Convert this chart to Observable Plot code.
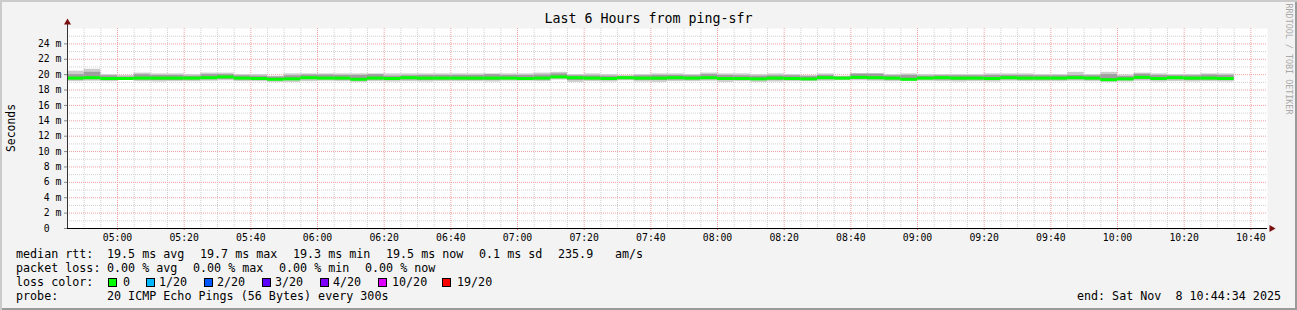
<!DOCTYPE html>
<html>
<head>
<meta charset="utf-8">
<script src="https://cdn.jsdelivr.net/npm/d3@7"></script>
<script src="https://cdn.jsdelivr.net/npm/@observablehq/plot@0.6"></script>
<style>
  html, body { margin: 0; padding: 0; background: #f3f3f3; }
  #wrap { position: relative; width: 1297px; height: 310px; background: #f3f3f3; overflow: hidden;
          box-shadow: inset 2px 2px 0 #cbcbcb, inset -2px -2px 0 #9a9a9a; font-family: "DejaVu Sans Mono", monospace; color: #000; }
  #wrap svg { position: absolute; left: 0; top: 0; }
  .t { position: absolute; white-space: pre; font-size: 11.7px; line-height: 14px; }
  .sq { position: absolute; width: 9px; height: 9px; box-sizing: border-box; border: 1px solid #000; }
</style>
</head>
<body>
<div id="wrap"></div>
<script>
// ---- data (5-minute steps) ----
const stepStart = [
  "04:45","04:50","04:55","05:00","05:05","05:10","05:15","05:20","05:25","05:30",
  "05:35","05:40","05:45","05:50","05:55","06:00","06:05","06:10","06:15","06:20",
  "06:25","06:30","06:35","06:40","06:45","06:50","06:55","07:00","07:05","07:10",
  "07:15","07:20","07:25","07:30","07:35","07:40","07:45","07:50","07:55","08:00",
  "08:05","08:10","08:15","08:20","08:25","08:30","08:35","08:40","08:45","08:50",
  "08:55","09:00","09:05","09:10","09:15","09:20","09:25","09:30","09:35","09:40",
  "09:45","09:50","09:55","10:00","10:05","10:10","10:15","10:20","10:25","10:30"
];
const medianMs = [
  19.55,19.6,19.5,19.5,19.55,19.55,19.55,19.55,19.6,19.7,
  19.55,19.5,19.4,19.45,19.6,19.55,19.55,19.4,19.55,19.5,
  19.6,19.55,19.55,19.55,19.55,19.55,19.55,19.5,19.55,19.7,
  19.6,19.55,19.5,19.6,19.55,19.55,19.6,19.55,19.6,19.5,
  19.5,19.45,19.55,19.5,19.45,19.6,19.55,19.65,19.6,19.55,
  19.4,19.55,19.6,19.55,19.55,19.5,19.6,19.55,19.55,19.55,
  19.6,19.55,19.35,19.45,19.65,19.5,19.6,19.55,19.55,19.5
];
const minMs = [
  19.1,19.15,19.1,19.25,19.1,19.05,19.1,19.1,19.15,19.2,
  19.1,19.1,19.0,19.0,19.1,19.15,19.1,19.0,19.1,19.05,
  19.1,19.05,19.1,19.1,19.1,19.05,19.15,19.15,19.1,19.3,
  19.0,19.1,19.05,19.2,19.05,19.0,19.1,19.1,19.15,19.0,
  19.1,19.0,19.05,19.1,19.1,19.15,19.2,19.2,19.15,19.1,
  19.1,19.15,19.1,19.05,19.1,19.05,19.15,19.1,19.1,19.1,
  19.15,19.1,19.0,19.05,19.15,19.05,19.1,19.05,19.1,19.05
];
const p25Ms = [
  19.3,19.35,19.3,19.35,19.3,19.25,19.25,19.3,19.35,19.4,
  19.3,19.3,19.25,19.25,19.35,19.35,19.3,19.2,19.3,19.25,
  19.3,19.25,19.3,19.3,19.25,19.25,19.35,19.35,19.3,19.5,
  19.25,19.3,19.25,19.35,19.25,19.25,19.3,19.3,19.35,19.25,
  19.3,19.25,19.25,19.3,19.25,19.35,19.35,19.4,19.35,19.3,
  19.25,19.35,19.3,19.25,19.3,19.25,19.35,19.3,19.3,19.3,
  19.35,19.3,19.2,19.25,19.35,19.25,19.35,19.25,19.3,19.25
];
const p75Ms = [
  20.0,20.3,19.85,19.7,20.0,19.9,19.9,19.8,20.0,20.0,
  19.85,19.8,19.7,19.85,19.95,19.95,19.9,19.9,20.0,19.8,
  19.85,19.9,19.9,19.9,19.9,20.0,19.9,19.9,19.95,20.1,
  19.85,19.85,19.8,19.75,19.85,19.9,19.9,19.85,20.0,19.9,
  19.85,19.8,19.85,19.85,19.75,19.9,19.7,20.05,20.05,19.85,
  19.9,19.8,19.85,19.85,19.85,19.9,19.9,19.9,19.85,19.85,
  19.9,19.85,20.0,19.75,20.05,19.9,19.85,19.85,19.95,19.9
];
const maxMs = [
  20.45,20.7,20.0,19.9,20.2,20.1,20.1,20.0,20.2,20.2,
  20.0,20.0,19.8,20.1,20.1,20.1,20.1,20.1,20.1,20.1,
  20.1,20.1,20.1,20.1,20.1,20.1,20.1,20.1,20.2,20.3,
  20.0,20.1,20.0,19.9,20.0,20.1,20.1,20.0,20.2,20.1,
  20.1,20.0,20.1,20.0,19.9,20.1,19.8,20.15,20.15,20.0,
  20.1,20.0,20.0,20.0,20.0,20.1,20.1,20.1,20.0,20.0,
  20.3,20.0,20.3,19.95,20.2,20.1,20.0,20.0,20.1,20.1
];
const yTicks = [0,2,4,6,8,10,12,14,16,18,20,22,24];
const yMinorGrid = [1,3,5,7,9,11,13,15,17,19,21,23,25];
const xTickLabels = ["05:00","05:20","05:40","06:00","06:20","06:40","07:00","07:20","07:40",
                     "08:00","08:20","08:40","09:00","09:20","09:40","10:00","10:20","10:40"];
const xMinorGrid = ["04:50","04:55","05:05","05:10","05:15","05:25","05:30","05:35","05:45","05:50","05:55",
  "06:05","06:10","06:15","06:25","06:30","06:35","06:45","06:50","06:55","07:05","07:10","07:15",
  "07:25","07:30","07:35","07:45","07:50","07:55","08:05","08:10","08:15","08:25","08:30","08:35",
  "08:45","08:50","08:55","09:05","09:10","09:15","09:25","09:30","09:35","09:45","09:50","09:55",
  "10:05","10:10","10:15","10:25","10:30","10:35"];
const timeStart = "04:45", timeEnd = "10:45";
const stepMinutes = 5;
const lossColors = [["0","#00ff00"],["1/20","#00b8ff"],["2/20","#0059ff"],["3/20","#5e00ff"],
                    ["4/20","#7e00ff"],["10/20","#dd00ff"],["19/20","#ff0000"]];

// ---- build table ----
const toDate = s => { const [h, m] = s.split(":").map(Number); return new Date(Date.UTC(2025, 10, 8, h, m)); };
const rows = stepStart.map((s, i) => {
  const a = toDate(s);
  return { t1: a, t2: new Date(+a + stepMinutes * 60000), med: medianMs[i], min: minMs[i], max: maxMs[i], lo: p25Ms[i], hi: p75Ms[i] };
});
const t0 = toDate(timeStart), tEnd = toDate(timeEnd);

const plot = Plot.plot({
  width: 1297, height: 310,
  marginLeft: 67, marginRight: 30, marginTop: 28, marginBottom: 82,
  style: { background: "transparent", fontFamily: "'DejaVu Sans Mono', monospace", fontSize: "9.8px", color: "#000", overflow: "visible" },
  x: { type: "utc", domain: [t0, tEnd] },
  y: { domain: [0, 26] },
  marks: [
    Plot.frame({ fill: "white", stroke: null }),
    Plot.ruleY(yMinorGrid, { stroke: "#d0d0d0", strokeDasharray: "1,1" }),
    Plot.ruleX(xMinorGrid.map(toDate), { stroke: "#d0d0d0", strokeDasharray: "1,1" }),
    Plot.ruleY(yTicks.filter(d => d > 0), { stroke: "#f0a0a0", strokeDasharray: "1,1" }),
    Plot.ruleX(xTickLabels.map(toDate), { stroke: "#f0a0a0", strokeDasharray: "1,1" }),
    Plot.rectY(rows, { x1: "t1", x2: "t2", y1: "min", y2: "max", fill: "#cccccc" }),
    Plot.rectY(rows, { x1: "t1", x2: "t2", y1: "lo", y2: "hi", fill: "#9e9e9e" }),
    Plot.ruleY(rows, { x1: "t1", x2: "t2", y: "med", stroke: "#00ff00", strokeWidth: 3 }),
    Plot.axisY(yTicks, { tickSize: 3, tickPadding: 3, stroke: "#888", fill: "#000",
      tickFormat: d => d === 0 ? "0\u00a0\u00a0" : d + " m", label: null }),
    Plot.axisX(xTickLabels.map(toDate), { tickSize: 2, tickPadding: 4, stroke: "#e06060", fill: "#000",
      tickFormat: d3.utcFormat("%H:%M"), label: null }),
    Plot.ruleY([0], { stroke: "#000", strokeWidth: 1 }),
    Plot.ruleX([t0], { y1: 0, y2: 26.8, stroke: "#333", strokeWidth: 1 }),
    Plot.dot([0], { frameAnchor: "top-left", symbol: "triangle", r: 2.6, fill: "#7a1010", stroke: null, dy: -6 }),
    Plot.dot([0], { frameAnchor: "bottom-right", symbol: "triangle", r: 2.6, rotate: 90, fill: "#7a1010", stroke: null, dx: 4 })
  ]
});

const wrap = document.getElementById("wrap");
wrap.appendChild(plot);

function addText(str, x, cy, opts = {}) {
  const d = document.createElement("div");
  d.className = "t";
  d.textContent = str;
  d.style.left = x + "px";
  d.style.top = (cy - 7) + "px";
  if (opts.size) d.style.fontSize = opts.size;
  if (opts.color) d.style.color = opts.color;
  wrap.appendChild(d);
  return d;
}

// title
const title = addText("Last 6 Hours from ping-sfr", 0, 19, { size: "13.3px" });
title.style.left = "0"; title.style.width = "1297px"; title.style.textAlign = "center"; title.style.lineHeight = "14px";

// y label
const yl = document.createElement("div");
yl.className = "t"; yl.textContent = "Seconds";
Object.assign(yl.style, { left: "11px", top: "128px", transform: "translate(-50%,-50%) rotate(-90deg)", fontSize: "11.4px" });
wrap.appendChild(yl);

// watermark
const wm = document.createElement("div");
wm.className = "t"; wm.textContent = "RRDTOOL / TOBI OETIKER";
Object.assign(wm.style, { left: "1288px", top: "59px", transform: "translate(-50%,-50%) rotate(90deg)", fontSize: "8.4px", color: "#a9a9a9", lineHeight: "9px" });
wrap.appendChild(wm);

// legend rows
const medAvg = 19.5, medMax = 19.7, medMin = 19.3, medNow = 19.5, medSd = 0.1, amS = 235.9;
const lossAvg = 0.00, lossMax = 0.00, lossMin = 0.00, lossNow = 0.00;
addText("median rtt:", 16, 254);
addText(medAvg.toFixed(1) + " ms avg", 107, 254);
addText(medMax.toFixed(1) + " ms max", 200, 254);
addText(medMin.toFixed(1) + " ms min", 293, 254);
addText(medNow.toFixed(1) + " ms now", 386, 254);
addText(medSd.toFixed(1) + " ms sd", 479, 254);
addText(amS.toFixed(1), 558, 254);
addText("am/s", 615, 254);

addText("packet loss:", 16, 268);
addText(lossAvg.toFixed(2) + " % avg", 107, 268);
addText(lossMax.toFixed(2) + " % max", 193, 268);
addText(lossMin.toFixed(2) + " % min", 279, 268);
addText(lossNow.toFixed(2) + " % now", 365, 268);

addText("loss color:", 16, 282);
const sqX = [108, 146, 204, 262, 320, 378, 442];
const lbX = [123, 159, 217, 275, 333, 392, 457];
lossColors.forEach(([lab, col], i) => {
  const s = document.createElement("div");
  s.className = "sq";
  s.style.left = sqX[i] + "px"; s.style.top = "278px"; s.style.background = col;
  wrap.appendChild(s);
  addText(lab, lbX[i], 282);
});

addText("probe:", 16, 296);
addText("20 ICMP Echo Pings (56 Bytes) every 300s", 107, 296);
const endT = addText("end: Sat Nov  8 10:44:34 2025", 0, 296);
endT.style.left = "auto"; endT.style.right = (1297 - 1281) + "px";
</script>
</body>
</html>
